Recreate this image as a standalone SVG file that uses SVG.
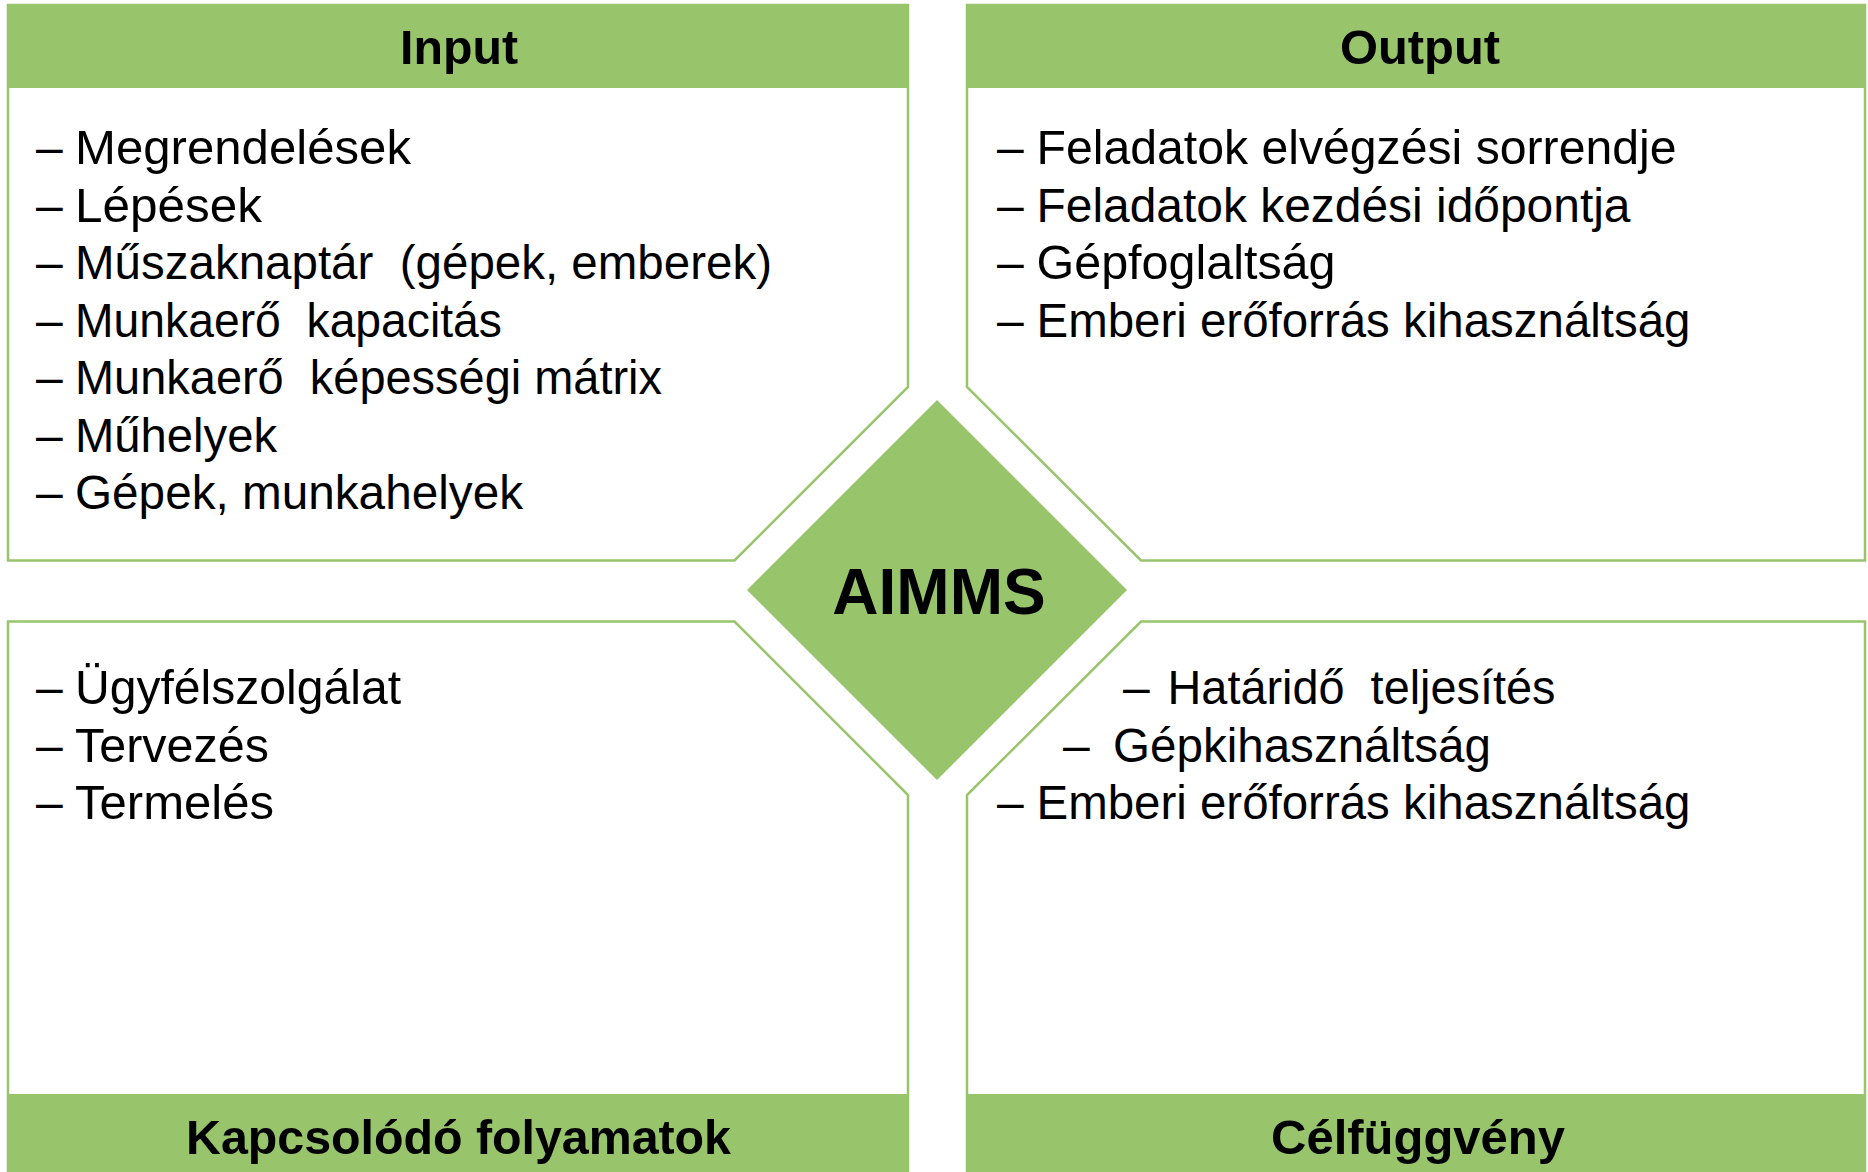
<svg xmlns="http://www.w3.org/2000/svg" width="1868" height="1172" viewBox="0 0 1868 1172">
<style>
.panel{fill:#ffffff;stroke:#98C46C;stroke-width:2.5}
.head{fill:#98C46C}
.dia{fill:#98C46C}
.ht{font-family:"Liberation Sans",Arial,sans-serif;font-weight:bold;font-size:48px;fill:#000}
.it{font-family:"Liberation Sans",Arial,sans-serif;font-size:48px;fill:#000}
.ai{font-family:"Liberation Sans",Arial,sans-serif;font-weight:bold;font-size:64px;fill:#000}
</style>
<rect width="1868" height="1172" fill="#ffffff"/>
<g id="input">
<polygon class="panel" points="8,5 908,5 908,387 734.5,560.5 8,560.5"/>
<rect class="head" x="7" y="4" width="902" height="84"/>
<text class="ht" x="400" y="64" textLength="118" lengthAdjust="spacingAndGlyphs">Input</text>
<text class="it" x="36" y="164">–</text><text class="it" x="75" y="164" textLength="336" lengthAdjust="spacingAndGlyphs">Megrendelések</text>
<text class="it" x="36" y="221.5">–</text><text class="it" x="75" y="221.5" textLength="187" lengthAdjust="spacingAndGlyphs">Lépések</text>
<text class="it" x="36" y="279">–</text><text class="it" x="75" y="279" textLength="697" lengthAdjust="spacingAndGlyphs" xml:space="preserve">Műszaknaptár  (gépek, emberek)</text>
<text class="it" x="36" y="336.5">–</text><text class="it" x="75" y="336.5" textLength="427" lengthAdjust="spacingAndGlyphs" xml:space="preserve">Munkaerő  kapacitás</text>
<text class="it" x="36" y="394">–</text><text class="it" x="75" y="394" textLength="587" lengthAdjust="spacingAndGlyphs" xml:space="preserve">Munkaerő  képességi mátrix</text>
<text class="it" x="36" y="451.5">–</text><text class="it" x="75" y="451.5" textLength="202" lengthAdjust="spacingAndGlyphs">Műhelyek</text>
<text class="it" x="36" y="509">–</text><text class="it" x="75" y="509" textLength="448" lengthAdjust="spacingAndGlyphs">Gépek, munkahelyek</text>
</g>
<g id="output">
<polygon class="panel" points="967,5 1865,5 1865,560.5 1141,560.5 967,387"/>
<rect class="head" x="966" y="4" width="900" height="84"/>
<text class="ht" x="1340" y="64" textLength="160" lengthAdjust="spacingAndGlyphs">Output</text>
<text class="it" x="997" y="164">–</text><text class="it" x="1036.5" y="164" textLength="640" lengthAdjust="spacingAndGlyphs">Feladatok elvégzési sorrendje</text>
<text class="it" x="997" y="221.5">–</text><text class="it" x="1036.5" y="221.5" textLength="594" lengthAdjust="spacingAndGlyphs">Feladatok kezdési időpontja</text>
<text class="it" x="997" y="279">–</text><text class="it" x="1036.5" y="279" textLength="299" lengthAdjust="spacingAndGlyphs">Gépfoglaltság</text>
<text class="it" x="997" y="336.5">–</text><text class="it" x="1036.5" y="336.5" textLength="654" lengthAdjust="spacingAndGlyphs">Emberi erőforrás kihasználtság</text>
</g>
<g id="kapcsolodo">
<polygon class="panel" points="8,621.5 734.5,621.5 908,795 908,1172 8,1172"/>
<rect class="head" x="7" y="1094" width="902" height="78"/>
<text class="ht" x="186" y="1154" textLength="545" lengthAdjust="spacingAndGlyphs">Kapcsolódó folyamatok</text>
<text class="it" x="36" y="704">–</text><text class="it" x="75" y="704" textLength="326" lengthAdjust="spacingAndGlyphs">Ügyfélszolgálat</text>
<text class="it" x="36" y="761.5">–</text><text class="it" x="75" y="761.5" textLength="194" lengthAdjust="spacingAndGlyphs">Tervezés</text>
<text class="it" x="36" y="819">–</text><text class="it" x="75" y="819" textLength="199" lengthAdjust="spacingAndGlyphs">Termelés</text>
</g>
<g id="celfuggveny">
<polygon class="panel" points="1141,621.5 1865,621.5 1865,1172 967,1172 967,795"/>
<rect class="head" x="966" y="1094" width="900" height="78"/>
<text class="ht" x="1271" y="1154" textLength="294" lengthAdjust="spacingAndGlyphs">Célfüggvény</text>
<text class="it" x="1123" y="704">–</text><text class="it" x="1167.5" y="704" textLength="388" lengthAdjust="spacingAndGlyphs" xml:space="preserve">Határidő  teljesítés</text>
<text class="it" x="1063" y="761.5">–</text><text class="it" x="1113" y="761.5" textLength="378" lengthAdjust="spacingAndGlyphs">Gépkihasználtság</text>
<text class="it" x="997" y="819">–</text><text class="it" x="1036.5" y="819" textLength="654" lengthAdjust="spacingAndGlyphs">Emberi erőforrás kihasználtság</text>
</g>
<g id="aimms">
<polygon class="dia" points="937,400 1127,590 937,780 747,590"/>
<text class="ai" x="939" y="614" text-anchor="middle">AIMMS</text>
</g>
<g id="connectors"></g>
</svg>
